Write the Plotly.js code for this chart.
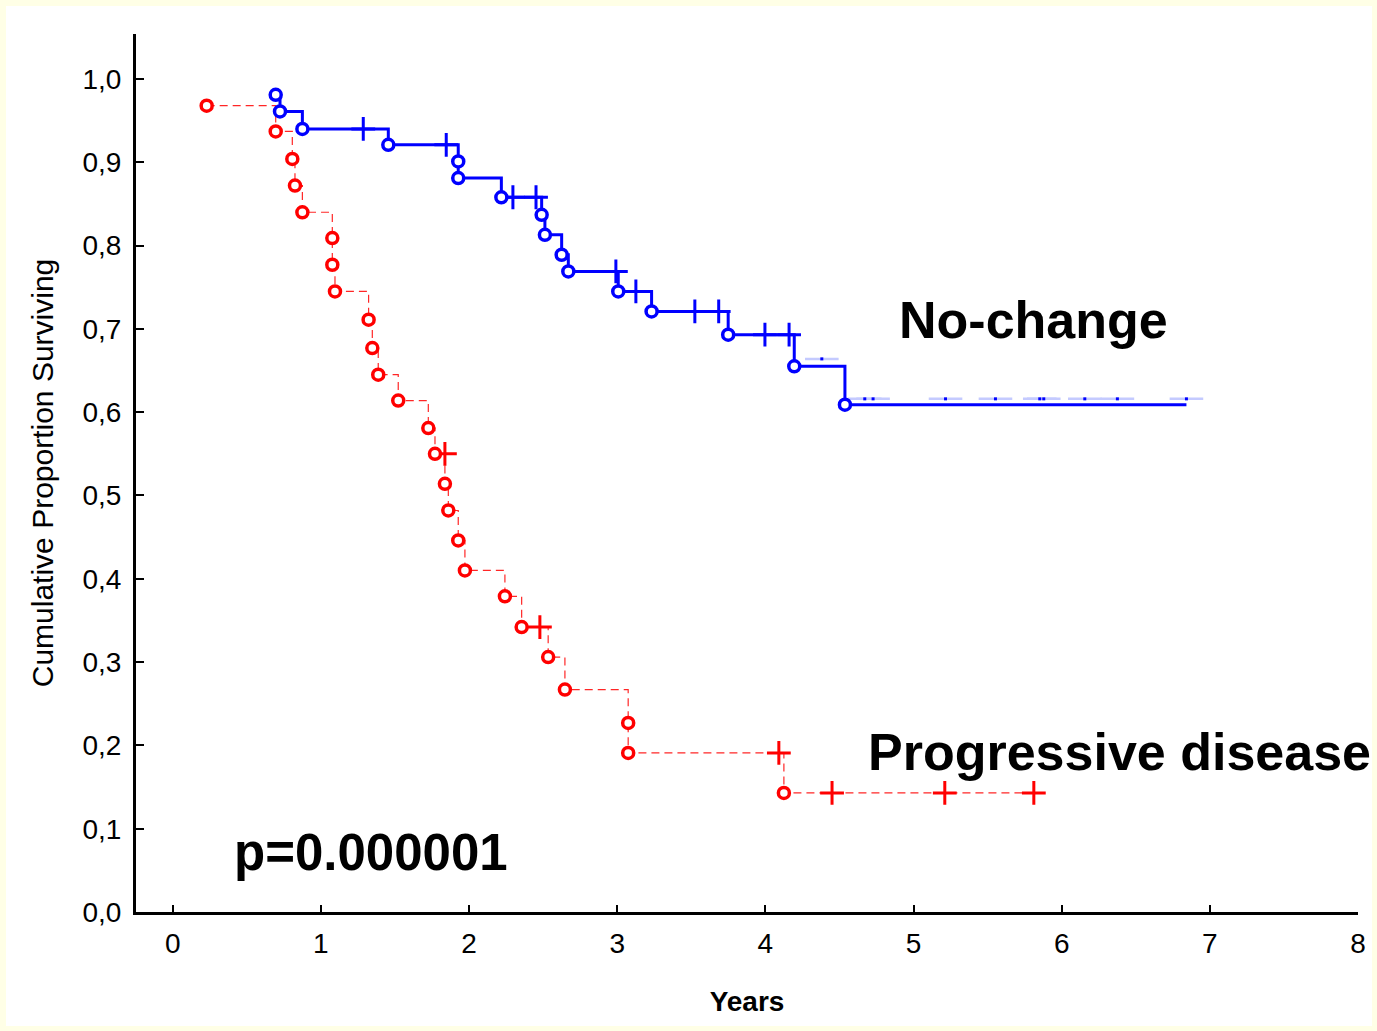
<!DOCTYPE html>
<html>
<head>
<meta charset="utf-8">
<script src="https://cdn.plot.ly/plotly-3.0.1.min.js"></script>
<style>
  html, body { margin: 0; padding: 0; background: #FFFFE6; }
  #chart { width: 1377px; height: 1031px; }
</style>
</head>
<body>
<div id="chart"></div>
<script>
// ---- Data ----
const xTickVals = [0, 1, 2, 3, 4, 5, 6, 7, 8];
const xTickText = ["0", "1", "2", "3", "4", "5", "6", "7", "8"];
const yTickVals = [0, 0.1, 0.2, 0.3, 0.4, 0.5, 0.6, 0.7, 0.8, 0.9, 1.0];
const yTickText = ["0,0", "0,1", "0,2", "0,3", "0,4", "0,5", "0,6", "0,7", "0,8", "0,9", "1,0"];

// No-change group (e = event, c = censored, end = end of follow-up)
const blueTime = [0.695, 0.724, 0.875, 1.286, 1.455, 1.846, 1.927, 1.927, 2.218, 2.296, 2.452, 2.490, 2.512, 2.625, 2.670, 2.991, 3.007, 3.126, 3.232, 3.524, 3.685, 3.749, 3.997, 4.160, 4.195, 4.537, 6.842];
const blueSurv = [0.981, 0.961, 0.940, 0.940, 0.921, 0.921, 0.901, 0.881, 0.858, 0.858, 0.858, 0.837, 0.813, 0.789, 0.769, 0.769, 0.745, 0.745, 0.721, 0.721, 0.721, 0.693, 0.693, 0.693, 0.655, 0.609, 0.609];
const blueKind = ["e", "e", "e", "c", "e", "c", "e", "e", "e", "c", "c", "e", "e", "e", "e", "c", "e", "c", "e", "c", "c", "e", "c", "c", "e", "e", "end"];
// faint censoring ticks of the No-change group
const blueFaintTime = [4.381, 4.671, 4.727, 5.216, 5.553, 5.852, 5.879, 6.156, 6.376, 6.842];
const blueFaintSurv = [0.664, 0.616, 0.616, 0.616, 0.616, 0.616, 0.616, 0.616, 0.616, 0.616];

// Progressive disease group
const redTime = [0.229, 0.695, 0.807, 0.825, 0.875, 1.077, 1.077, 1.095, 1.322, 1.347, 1.387, 1.522, 1.725, 1.770, 1.837, 1.837, 1.860, 1.927, 1.972, 2.242, 2.355, 2.478, 2.534, 2.647, 3.074, 3.074, 4.091, 4.125, 4.450, 5.211, 5.812];
const redSurv = [0.968, 0.937, 0.904, 0.872, 0.840, 0.809, 0.777, 0.745, 0.711, 0.677, 0.645, 0.614, 0.581, 0.550, 0.550, 0.514, 0.482, 0.446, 0.410, 0.379, 0.342, 0.342, 0.306, 0.267, 0.227, 0.191, 0.191, 0.143, 0.143, 0.143, 0.143];
const redKind = ["e", "e", "e", "e", "e", "e", "e", "e", "e", "e", "e", "e", "e", "e", "c", "e", "e", "e", "e", "e", "e", "c", "e", "e", "e", "e", "c", "e", "c", "c", "c"];

// ---- helpers ----
function pick(t, s, k, kind) {
  const x = [], y = [];
  for (let i = 0; i < t.length; i++) if (k[i] === kind) { x.push(t[i]); y.push(s[i]); }
  return { x, y };
}
const BLUE = "#0000FF";
const RED = "#FF0000";
const FONT = "Liberation Sans, Arial, sans-serif";

const bE = pick(blueTime, blueSurv, blueKind, "e");
const bC = pick(blueTime, blueSurv, blueKind, "c");
const rE = pick(redTime, redSurv, redKind, "e");
const rC = pick(redTime, redSurv, redKind, "c");

const traces = [
  { x: blueTime, y: blueSurv, mode: "lines", line: { shape: "hv", color: BLUE, width: 3 }, hoverinfo: "skip" },
  { x: redTime, y: redSurv, mode: "lines", line: { shape: "hv", color: RED, width: 1.2, dash: "8px,5px" }, opacity: 0.85, hoverinfo: "skip" },
  { x: blueFaintTime, y: blueFaintSurv, mode: "markers", marker: { symbol: "line-ew-open", size: 24, color: "#C4CAFF", line: { color: "#C4CAFF", width: 2.5 } }, hoverinfo: "skip" },
  { x: blueFaintTime, y: blueFaintSurv, mode: "markers", marker: { symbol: "square", size: 3, color: BLUE, line: { width: 0 } }, hoverinfo: "skip" },
  { x: bC.x, y: bC.y, mode: "markers", marker: { symbol: "cross-thin-open", size: 17, color: BLUE, line: { color: BLUE, width: 3 } } },
  { x: rC.x, y: rC.y, mode: "markers", marker: { symbol: "cross-thin-open", size: 17, color: RED, line: { color: RED, width: 3 } } },
  { x: bE.x, y: bE.y, mode: "markers", marker: { symbol: "circle", size: 11, color: "#FFFFFF", line: { color: BLUE, width: 3.5 } } },
  { x: rE.x, y: rE.y, mode: "markers", marker: { symbol: "circle", size: 11, color: "#FFFFFF", line: { color: RED, width: 3.5 } } }
];

// plot area in pixels: left 136, right 1358, top 34, bottom 912
const L = 136, R = 19, T = 34, B = 119, W = 1377, H = 1031;
const pw = W - L - R, ph = H - T - B;
const px = v => (v - L) / pw;
const py = v => (H - B - v) / ph;

const layout = {
  width: W, height: H,
  margin: { l: L, r: R, t: T, b: B, pad: 0 },
  paper_bgcolor: "#FFFFE6",
  plot_bgcolor: "#FFFFFF",
  showlegend: false,
  font: { family: FONT, color: "#000000" },
  shapes: [
    { type: "rect", xref: "paper", yref: "paper", x0: px(6), x1: px(1372), y0: py(1026), y1: py(6),
      fillcolor: "#FFFFFF", line: { width: 0 }, layer: "below" }
  ],
  xaxis: {
    range: [-0.248, 8.0],
    tickvals: xTickVals, ticktext: xTickText,
    ticks: "inside", ticklen: 7, tickwidth: 2, tickcolor: "#000",
    showline: true, linecolor: "#000", linewidth: 3,
    showgrid: false, zeroline: false,
    tickfont: { size: 28, family: FONT, color: "#000" },
    ticklabelstandoff: 4,
    title: { text: "<b>Years</b>", font: { size: 28, family: FONT, color: "#000" }, standoff: 34 },
    automargin: false
  },
  yaxis: {
    range: [0, 1.054],
    tickvals: yTickVals, ticktext: yTickText,
    ticks: "inside", ticklen: 8, tickwidth: 2, tickcolor: "#000",
    showline: true, linecolor: "#000", linewidth: 3,
    showgrid: false, zeroline: false,
    tickfont: { size: 28, family: FONT, color: "#000" },
    ticklabelstandoff: 6,
    title: { text: "Cumulative Proportion Surviving", font: { size: 30, family: FONT, color: "#000" }, standoff: 20 },
    automargin: false
  },
  annotations: [
    { text: "<b>No-change</b>", xref: "paper", yref: "paper", x: px(1033), y: py(320),
      xanchor: "center", yanchor: "middle", showarrow: false, font: { size: 52, family: FONT, color: "#000" } },
    { text: "<b>Progressive disease</b>", xref: "paper", yref: "paper", x: px(1119), y: py(752),
      xanchor: "center", yanchor: "middle", showarrow: false, font: { size: 52, family: FONT, color: "#000" } },
    { text: "<b>p=0.000001</b>", xref: "paper", yref: "paper", x: px(371), y: py(852),
      xanchor: "center", yanchor: "middle", showarrow: false, font: { size: 51, family: FONT, color: "#000" } }
  ]
};

Plotly.newPlot("chart", traces, layout, { displayModeBar: false, staticPlot: true });
</script>
</body>
</html>
